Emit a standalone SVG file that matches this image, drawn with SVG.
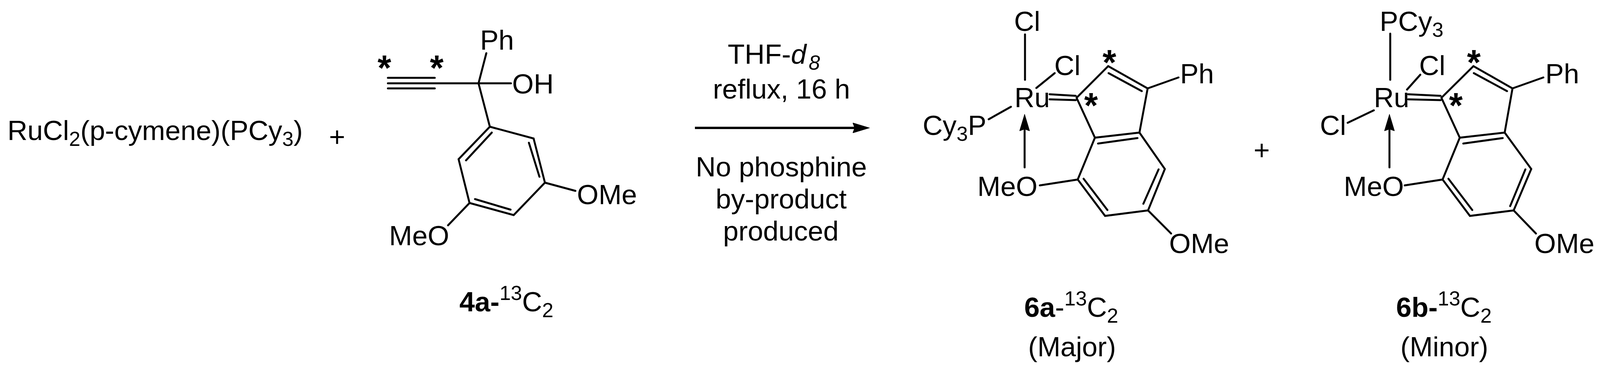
<svg xmlns="http://www.w3.org/2000/svg" width="4099" height="946" viewBox="0 0 4099 946">
<style>
text{font-family:"Liberation Sans",Arial,sans-serif;font-size:71px;fill:#000}
.s{font-size:52px}
.star{font-size:90px;font-weight:700;text-anchor:middle}
.b{font-weight:700}
.i{font-style:italic}
.bond{fill:none;stroke:#000;stroke-width:5;stroke-linecap:round;stroke-linejoin:miter}
.rxn{stroke-width:6;stroke-linecap:butt}
.mid{text-anchor:middle}
</style>
<defs>
<marker id="head" markerUnits="userSpaceOnUse" viewBox="0 0 43 26" markerWidth="43" markerHeight="26" refX="33" refY="13" orient="auto"><path d="M0 0L43 13L0 26L5 13Z" fill="#000" stroke="#000" stroke-width="1"/></marker>
</defs>
<rect width="4099" height="946" fill="#fff"/>
<g id="reagent">
<text x="19" y="358">RuCl<tspan class="s" dy="15">2</tspan><tspan dy="-15">(p-cymene)(PCy</tspan><tspan class="s" dy="15">3</tspan><tspan dy="-15">)</tspan></text>
</g>
<g id="plus1"><text x="863" y="374" class="mid">+</text></g>
<g id="alkyne-4a">
<path class="bond" d="M993 199H1113M993 213H1308M993 226H1113M1245 136L1225 213L1254 324L1366 354L1395 467L1315 550L1202 519L1174 407L1254 324M1259 339L1193 410M1354 365L1381 452M1216 509L1307 536M1395 467L1473 488M1202 519L1147 576"/>
<text x="1229" y="127">Ph</text>
<text x="1311" y="239">OH</text>
<text x="1477" y="522">OMe</text>
<text x="996" y="627">MeO</text>
<text class="star" x="984" y="205">*</text>
<text class="star" x="1118" y="205">*</text>
<text x="1176" y="796"><tspan class="b">4a-</tspan><tspan class="s" dy="-29">13</tspan><tspan dy="29">C</tspan><tspan class="s" dy="15">2</tspan></text>
</g>
<g id="conditions">
<text x="1863" y="163">THF-<tspan class="i">d</tspan><tspan class="i s" dx="6" dy="15">8</tspan></text>
<text x="1825" y="252">reflux, 16 h</text>
<text x="1781" y="451">No phosphine</text>
<text x="1832" y="533">by-product</text>
<text x="1851" y="615">produced</text>
</g>
<g id="connectors">
<path class="bond rxn" d="M1779 327H2216" marker-end="url(#head)"/>
<path class="bond" d="M2623 428V302" marker-end="url(#head)"/>
<path class="bond" d="M3557 428V302" marker-end="url(#head)"/>
</g>
<g id="complex-6a">
<path class="bond" d="M2624 88V204M2700 187L2653 225M2588 273L2531 305M2662 474L2759 459M2687 241L2754 245M2687 254L2754 256M2756 250L2837 169L2938 226L2917 339L2803 352L2756 250M2803 352L2759 459L2829 552L2939 538L2982 432L2917 339M2838 187L2923 233M2811 367L2912 353M2774 457L2835 537M2927 521L2966 433M2938 226L3017 198M2939 538L2998 597"/>
<text x="2596" y="79">Cl</text>
<text x="2597" y="274">Ru</text>
<text x="2699" y="192">Cl</text>
<text x="2362" y="345">Cy<tspan class="s" dy="15">3</tspan><tspan dy="-15">P</tspan></text>
<text x="2502" y="501">MeO</text>
<text x="3021" y="213">Ph</text>
<text x="2993" y="647">OMe</text>
<text class="star" x="2840" y="191">*</text>
<text class="star" x="2793" y="301">*</text>
<text x="2622" y="810"><tspan class="b">6a</tspan>-<tspan class="s" dy="-29">13</tspan><tspan dy="29">C</tspan><tspan class="s" dy="15">2</tspan></text>
<text x="2632" y="911">(Major)</text>
</g>
<g id="plus2"><text x="3230" y="408" class="mid">+</text></g>
<g id="complex-6b">
<path class="bond" d="M3559 86V204M3636 191L3602 229M3517 282L3450 314M3596 474L3693 459M3605 241L3688 245M3605 254L3688 256M3690 250L3772 169L3872 226L3852 339L3737 352L3690 250M3737 352L3693 459L3763 552L3875 538L3920 432L3852 339M3773 187L3858 233M3746 367L3847 353M3708 457L3769 537M3866 527L3905 433M3872 226L3951 198M3875 538L3932 597"/>
<text x="3532" y="79">PCy<tspan class="s" dy="15">3</tspan></text>
<text x="3517" y="274">Ru</text>
<text x="3633" y="192">Cl</text>
<text x="3379" y="345">Cl</text>
<text x="3440" y="501">MeO</text>
<text x="3956" y="213">Ph</text>
<text x="3928" y="647">OMe</text>
<text class="star" x="3773" y="191">*</text>
<text class="star" x="3727" y="301">*</text>
<text x="3574" y="810"><tspan class="b">6b-</tspan><tspan class="s" dy="-29">13</tspan><tspan dy="29">C</tspan><tspan class="s" dy="15">2</tspan></text>
<text x="3585" y="911">(Minor)</text>
</g>
</svg>
